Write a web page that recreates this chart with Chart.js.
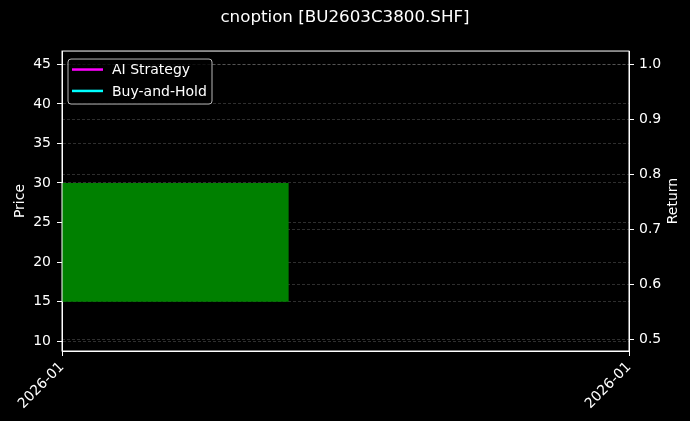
<!DOCTYPE html>
<html>
<head>
<meta charset="utf-8">
<script src="https://cdn.jsdelivr.net/npm/chart.js@4"></script>
<style>
body { margin: 0; background: #000; }
</style>
</head>
<body>
<canvas id="myChart" width="690" height="421"></canvas>
<script>
const xTickValues = [0, 1];
const xTickLabels = ['2026-01', '2026-01'];
const priceTicks = [10, 15, 20, 25, 30, 35, 40, 45];
const returnTicks = [0.5, 0.6, 0.7, 0.8, 0.9, 1.0];

// the single candle: open / close and the stretch of the x axis it covers
const candleOpen = 15;
const candleClose = 30;
const candleSpan = [0, 0.4];

// return series (one point each, so no line shows)
const seriesX = [0];
const strategyReturn = [1.0];
const buyHoldReturn = [1.0];

Chart.defaults.font.family = 'DejaVu Sans';
Chart.defaults.color = '#fff';

const frame = {
    id: 'frame',
    afterDraw(chart) {
        const {ctx, chartArea: a} = chart;
        ctx.save();
        ctx.strokeStyle = '#fff';
        ctx.lineWidth = 1;
        ctx.strokeRect(a.left, a.top, a.right - a.left, a.bottom - a.top);
        ctx.restore();
    }
};

// right axis title, turned the same way as the left one
const rightTitle = {
    id: 'rightTitle',
    afterDraw(chart) {
        const {ctx, chartArea: a} = chart;
        const s = chart.scales.y1;
        ctx.save();
        ctx.translate(s.right - 17, (a.top + a.bottom) / 2);
        ctx.rotate(-Math.PI / 2);
        ctx.font = '14px "DejaVu Sans"';
        ctx.fillStyle = '#fff';
        ctx.textAlign = 'center';
        ctx.textBaseline = 'middle';
        ctx.fillText('Return', 0, 0);
        ctx.restore();
    }
};

const innerLegend = {
    id: 'innerLegend',
    afterDraw(chart) {
        const {ctx, chartArea: a} = chart;
        const items = chart.data.datasets.filter(d => d.inLegend);
        const x0 = a.left + 6, y0 = a.top + 8;
        ctx.save();
        ctx.beginPath();
        ctx.roundRect(x0, y0, 144, 45, 3);
        ctx.fillStyle = 'rgba(0,0,0,0.8)';
        ctx.fill();
        ctx.strokeStyle = 'rgba(204,204,204,0.9)';
        ctx.lineWidth = 1;
        ctx.stroke();
        ctx.font = '14px "DejaVu Sans"';
        ctx.textBaseline = 'middle';
        items.forEach((d, i) => {
            const y = y0 + 10.5 + i * 21.4;
            ctx.strokeStyle = d.borderColor;
            ctx.lineWidth = 2.5;
            ctx.beginPath();
            ctx.moveTo(x0 + 4, y);
            ctx.lineTo(x0 + 35, y);
            ctx.stroke();
            ctx.fillStyle = '#fff';
            ctx.fillText(d.label, x0 + 44, y + 1);
        });
        ctx.restore();
    }
};

const gridColor = 'rgba(255,255,255,0.3)';

new Chart(document.getElementById('myChart').getContext('2d'), {
    type: 'line',
    data: {
        datasets: [{
            label: 'candle top',
            data: candleSpan.map(x => ({x: x, y: Math.max(candleOpen, candleClose)})),
            yAxisID: 'y',
            borderWidth: 0,
            borderColor: 'rgba(0,0,0,0)',
            backgroundColor: '#008000',
            pointRadius: 0,
            fill: '+1'
        }, {
            label: 'candle bottom',
            data: candleSpan.map(x => ({x: x, y: Math.min(candleOpen, candleClose)})),
            yAxisID: 'y',
            borderWidth: 0,
            borderColor: 'rgba(0,0,0,0)',
            pointRadius: 0,
            fill: false
        }, {
            label: 'AI Strategy',
            inLegend: true,
            data: seriesX.map((x, i) => ({x: x, y: strategyReturn[i]})),
            yAxisID: 'y1',
            borderColor: '#ff00ff',
            borderWidth: 2,
            pointRadius: 0
        }, {
            label: 'Buy-and-Hold',
            inLegend: true,
            data: seriesX.map((x, i) => ({x: x, y: buyHoldReturn[i]})),
            yAxisID: 'y1',
            borderColor: '#00ffff',
            borderWidth: 2,
            pointRadius: 0
        }]
    },
    options: {
        responsive: false,
        animation: false,
        layout: { padding: 0 },
        plugins: {
            legend: { display: false },
            tooltip: { enabled: false },
            title: {
                display: true,
                text: 'cnoption [BU2603C3800.SHF]',
                color: '#fff',
                font: { size: 16.7, weight: 'normal' },
                padding: { top: 8, bottom: 23 }
            }
        },
        scales: {
            x: {
                type: 'linear',
                min: 0,
                max: 1,
                afterBuildTicks: s => { s.ticks = xTickValues.map(v => ({value: v})); },
                afterFit: s => { s.height = 70; },
                ticks: {
                    callback: (v, i) => xTickLabels[i],
                    autoSkip: false,
                    minRotation: 45,
                    maxRotation: 45,
                    padding: 3,
                    font: { size: 14 },
                    color: '#fff'
                },
                grid: { drawOnChartArea: false, tickLength: 5, tickColor: '#fff', tickWidth: 1 },
                border: { color: '#fff' }
            },
            y: {
                position: 'left',
                min: 8.76,
                max: 46.68,
                z: 1,
                afterBuildTicks: s => { s.ticks = priceTicks.map(v => ({value: v})); },
                afterFit: s => { s.width = 62; },
                ticks: { padding: 6, font: { size: 14 }, color: '#fff' },
                grid: { color: gridColor, lineWidth: 0.6, tickColor: '#fff', tickLength: 5, tickWidth: 1, tickBorderDash: [] },
                border: { color: '#fff', dash: [3, 2] },
                title: { display: true, text: 'Price', color: '#fff', font: { size: 14 }, padding: { top: 11.6, bottom: 0 } }
            },
            y1: {
                position: 'right',
                min: 0.4787,
                max: 1.0242,
                z: 1,
                afterBuildTicks: s => { s.ticks = returnTicks.map(v => ({value: v})); },
                afterFit: s => { s.width = 61; },
                ticks: { padding: 5, font: { size: 14 }, color: '#fff', callback: v => v.toFixed(1) },
                grid: { color: gridColor, lineWidth: 0.6, tickColor: '#fff', tickLength: 5, tickWidth: 1, tickBorderDash: [] },
                border: { color: '#fff', dash: [3, 2] },
                title: { display: false }
            }
        }
    },
    plugins: [frame, rightTitle, innerLegend]
});
</script>
</body>
</html>
